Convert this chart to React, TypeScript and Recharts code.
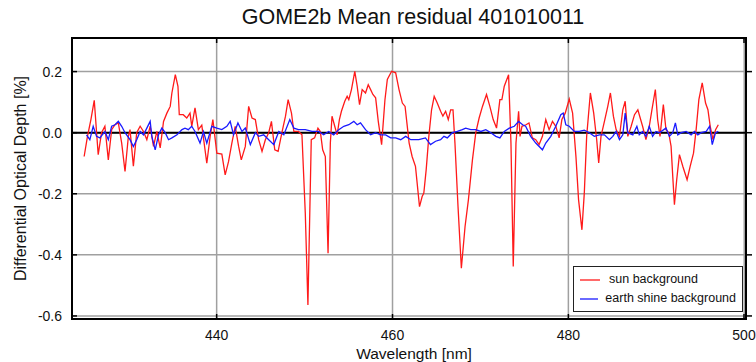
import {
  LineChart,
  Line,
  XAxis,
  YAxis,
  CartesianGrid,
  ReferenceLine,
  ReferenceArea,
  Legend,
} from "recharts";

// wavelength [nm] / residual [%] pairs, sun background fit
const sunWavelength = [
  424.93, 425.31, 425.7, 426.08, 426.53, 426.91, 427.29, 427.68, 428.06, 428.44,
  428.82, 429.2, 429.58, 429.96, 430.15, 430.53, 430.91, 431.3, 431.68, 432.06,
  432.44, 432.82, 433.2, 433.58, 433.96, 434.34, 434.72, 434.91, 435.3, 435.6,
  435.75, 436.2, 436.6, 436.97, 437.17, 437.54, 437.92, 438.31, 438.88, 439.26,
  439.57, 440.02, 440.59, 440.97, 441.35, 441.73, 442.11, 442.5, 442.8, 443.26,
  443.64, 444.02, 444.4, 444.78, 445.16, 445.54, 445.92, 446.23, 446.61, 446.99,
  447.45, 447.83, 448.13, 448.51, 448.78, 449.31, 449.7, 450.08, 450.38, 450.76,
  451.14, 451.52, 451.79, 452.06, 452.36, 452.67, 452.93, 453.12, 453.43, 453.7,
  453.96, 454.19, 454.57, 454.84, 455.03, 455.33, 455.71, 455.98, 456.25, 456.55,
  456.93, 457.24, 457.51, 457.77, 458.08, 458.38, 458.76, 459.14, 459.41, 459.9,
  460.36, 460.74, 461.12, 461.43, 461.89, 462.23, 462.61, 463.07, 463.37, 463.56,
  463.83, 464.13, 464.44, 464.74, 465.09, 465.47, 465.73, 466.04, 466.34, 466.61,
  466.88, 467.1, 467.45, 467.83, 468.25, 468.63, 469.09, 469.47, 469.85, 470.23,
  470.69, 471.07, 471.45, 471.83, 472.21, 472.44, 472.71, 473.2, 473.47, 473.73,
  474.04, 474.34, 474.5, 474.72, 475.18, 475.52, 475.9, 476.29, 476.67, 477.05,
  477.43, 477.81, 478.19, 478.57, 478.95, 479.26, 479.64, 480.1, 480.48, 480.86,
  481.16, 481.54, 481.81, 482.08, 482.5, 482.88, 483.22, 483.45, 483.71, 484.1,
  484.48, 484.78, 485.12, 485.43, 485.81, 486.19, 486.46, 486.76, 487.14, 487.52,
  487.9, 488.44, 488.82, 489.2, 489.5, 489.89, 490.15, 490.42, 490.8, 491.1,
  491.41, 491.68, 491.87, 492.06, 492.32, 492.63, 493.01, 493.5, 493.85, 494.23,
  494.53, 494.84, 495.22, 495.6, 495.87, 496.13, 496.44, 496.74, 497.05,
];
const sunResidual = [
  -0.078, -0.012, 0.043, 0.106, -0.072, 0.0, 0.021, -0.089, 0.01, 0.026,
  0.032, -0.034, -0.127, -0.012, 0.01, -0.11, 0.0, 0.021, 0.004, -0.023,
  0.021, -0.045, 0.004, -0.05, 0.037, 0.064, 0.086, 0.13, 0.19, 0.152,
  0.059, 0.059, 0.048, 0.064, 0.021, 0.081, 0.01, 0.025, -0.1, -0.012,
  0.043, -0.067, -0.07, -0.138, -0.095, -0.034, 0.021, -0.045, -0.089, -0.045,
  0.086, 0.048, 0.043, -0.023, -0.061, -0.023, 0.0, 0.037, -0.056, -0.061,
  0.004, 0.054, 0.108, 0.064, 0.004, 0.004, -0.007, -0.263, -0.564, -0.023,
  -0.017, 0.015, 0.004, -0.056, -0.078, -0.395, -0.034, 0.054, 0.021, -0.007,
  0.043, 0.07, 0.103, 0.119, 0.108, 0.141, 0.201, 0.152, 0.092, 0.141,
  0.13, 0.157, 0.141, 0.125, 0.114, 0.037, -0.039, 0.108, 0.174, 0.201,
  0.196, 0.141, 0.097, 0.086, -0.034, -0.078, -0.11, -0.242, -0.209, -0.198,
  -0.121, -0.012, 0.075, 0.119, 0.097, 0.07, 0.054, 0.07, 0.043, 0.075,
  0.075, -0.034, -0.242, -0.444, -0.307, -0.22, -0.089, 0.0, 0.048, 0.086,
  0.125, 0.086, 0.043, 0.015, 0.108, 0.108, 0.152, 0.19, -0.034, -0.438,
  -0.034, 0.07, -0.012, 0.021, 0.026, 0.032, -0.017, -0.023, -0.039, -0.012,
  0.043, 0.01, 0.037, 0.021, -0.017, 0.043, 0.064, 0.11, 0.064, -0.078,
  -0.22, -0.318, -0.198, -0.012, 0.13, 0.064, -0.023, -0.099, -0.012, 0.037,
  0.086, 0.13, 0.054, 0.01, -0.012, 0.075, 0.103, -0.012, 0.021, 0.059,
  0.075, 0.021, -0.023, 0.021, 0.075, 0.141, 0.043, -0.012, 0.092, 0.01,
  0.0, -0.045, -0.143, -0.236, -0.154, -0.072, -0.11, -0.154, -0.11, -0.067,
  0.01, 0.108, 0.163, 0.097, 0.075, 0.021, -0.023, 0.01, 0.026,
];

// earth shine background fit
const earthWavelength = [
  425.2, 425.58, 425.96, 426.34, 426.72, 427.3, 427.68, 428.06, 428.44, 428.82,
  429.2, 429.58, 430.15, 430.53, 430.91, 431.3, 431.68, 432.06, 432.44, 432.63,
  433.01, 433.39, 433.77, 434.15, 434.53, 434.91, 435.49, 436.06, 436.4, 436.78,
  437.16, 437.54, 438.11, 438.5, 438.88, 439.45, 440.02, 440.59, 441.16, 441.54,
  441.92, 442.42, 442.88, 443.26, 443.83, 444.4, 444.78, 445.35, 445.92, 446.5,
  447.07, 447.64, 448.32, 448.78, 449.31, 450.08, 450.84, 451.6, 452.17, 452.74,
  453.31, 453.89, 454.46, 455.03, 455.6, 455.98, 456.36, 456.93, 457.51, 458.08,
  458.65, 459.22, 459.79, 460.36, 460.93, 461.5, 462.08, 462.99, 463.75, 464.32,
  464.9, 465.47, 465.85, 466.23, 466.8, 467.37, 467.94, 468.32, 468.9, 469.47,
  470.04, 470.61, 471.18, 471.75, 472.21, 472.71, 473.28, 473.85, 474.34, 474.8,
  475.14, 475.71, 476.29, 477.05, 477.43, 478.0, 478.57, 479.14, 479.41, 479.71,
  480.1, 480.67, 481.24, 481.81, 482.38, 482.95, 483.52, 484.1, 484.67, 485.05,
  485.43, 485.81, 486.19, 486.46, 486.76, 487.33, 487.79, 488.06, 488.44, 488.82,
  489.2, 489.58, 489.96, 490.34, 491.1, 491.49, 491.87, 492.17, 492.44, 492.82,
  493.39, 493.96, 494.34, 494.72, 495.1, 495.68, 496.06, 496.36, 496.74, 497.05,
];
const earthResidual = [
  -0.007, -0.023, 0.021, -0.012, -0.017, 0.004, -0.023, 0.021, 0.026, 0.037,
  0.021, 0.0, -0.023, -0.045, -0.023, 0.004, -0.007, 0.015, 0.037, -0.012,
  -0.056, -0.007, 0.015, 0.0, -0.023, -0.017, -0.007, 0.01, 0.015, 0.01,
  0.021, 0.004, -0.034, 0.004, -0.034, 0.021, 0.015, 0.01, 0.021, 0.037,
  -0.007, 0.032, 0.004, 0.015, -0.039, 0.0, -0.012, -0.007, -0.023, -0.039,
  0.004, -0.007, 0.043, 0.015, 0.01, 0.01, 0.004, 0.004, -0.007, 0.004,
  -0.007, 0.01, 0.021, 0.026, 0.037, 0.026, 0.032, 0.01, -0.007, 0.0,
  -0.007, -0.007, -0.017, -0.017, -0.023, -0.012, -0.023, -0.023, -0.017, -0.039,
  -0.028, -0.023, -0.012, -0.017, 0.0, 0.004, 0.01, 0.015, 0.01, 0.01,
  0.004, 0.01, 0.0, -0.012, -0.017, 0.004, 0.015, 0.021, 0.037, 0.026,
  0.021, -0.012, -0.034, -0.056, -0.034, -0.012, 0.021, 0.059, 0.064, 0.026,
  0.021, 0.004, 0.004, 0.008, 0.0, -0.012, -0.007, -0.007, -0.023, -0.012,
  0.004, -0.023, -0.007, 0.064, 0.0, -0.007, 0.021, -0.007, 0.004, -0.012,
  0.021, -0.012, 0.004, 0.0, 0.015, -0.012, 0.0, 0.032, -0.007, 0.0,
  0.004, -0.007, 0.004, -0.007, 0.0, 0.004, 0.021, -0.039, 0.0, 0.004,
];

const seriesNames = ["sun background", "earth shine background"];
const wavelengthTicks = [440, 460, 480, 500];
const residualTicks = [-0.6, -0.4, -0.2, 0, 0.2];

const X_DOMAIN: [number, number] = [423.55, 500.2];
const Y_DOMAIN: [number, number] = [-0.61, 0.31];

const WIDTH = 756;
const HEIGHT = 362;
const MARGIN = { top: 38, right: 10, bottom: 0, left: 12 };
const Y_AXIS_W = 60;
const X_AXIS_H = 43;
const PLOT_TOP = MARGIN.top;
const PLOT_BOTTOM = HEIGHT - MARGIN.bottom - X_AXIS_H;
const PLOT_LEFT = MARGIN.left + Y_AXIS_W;
const PLOT_RIGHT = WIDTH - MARGIN.right;

const FONT = "'Liberation Sans', Arial, Helvetica, sans-serif";

const sunData = sunWavelength.map((wl, i) => ({ wl, value: sunResidual[i] }));
const earthData = earthWavelength.map((wl, i) => ({
  wl,
  value: earthResidual[i],
}));

// tick marks point into the plot box, drawn on both opposite edges
function WavelengthTick({ x, y, payload }: any) {
  return (
    <g>
      <line x1={x} y1={PLOT_BOTTOM} x2={x} y2={PLOT_BOTTOM - 5} stroke="#000" strokeWidth={1.5} />
      <line x1={x} y1={PLOT_TOP} x2={x} y2={PLOT_TOP + 5} stroke="#000" strokeWidth={1.5} />
      <text
        x={x}
        y={y}
        dy={21}
        textAnchor="middle"
        fontSize={14}
        fontFamily={FONT}
        fill="#111"
      >
        {payload.value}
      </text>
    </g>
  );
}

function ResidualTick({ y, payload }: any) {
  return (
    <g>
      <line x1={PLOT_LEFT} y1={y} x2={PLOT_LEFT + 5} y2={y} stroke="#000" strokeWidth={1.5} />
      <line x1={PLOT_RIGHT} y1={y} x2={PLOT_RIGHT + 6} y2={y} stroke="#000" strokeWidth={1.5} />
      <text
        x={PLOT_LEFT - 10}
        y={y}
        dy={5}
        textAnchor="end"
        fontSize={14}
        fontFamily={FONT}
        fill="#111"
      >
        {Number(payload.value).toFixed(1)}
      </text>
    </g>
  );
}

function LegendBox({ payload }: any) {
  const items = [...(payload || [])].sort(
    (a: any, b: any) => seriesNames.indexOf(a.value) - seriesNames.indexOf(b.value)
  );
  return (
    <div
      style={{
        border: "1px solid #222",
        background: "#fff",
        padding: "3px 6px 3px 6px",
        fontFamily: FONT,
        fontSize: 12.5,
        color: "#111",
        lineHeight: "19px",
        whiteSpace: "nowrap",
      }}
    >
      {items.map((entry: any) => (
        <div key={entry.value} style={{ display: "flex", alignItems: "center" }}>
          <svg width={22} height={10} style={{ marginRight: 7 }}>
            <line x1={0} y1={5} x2={20} y2={5} stroke={entry.color} strokeWidth={1.3} />
          </svg>
          <span>{entry.value}</span>
        </div>
      ))}
    </div>
  );
}

export default function App() {
  return (
    <div
      style={{
        position: "absolute",
        left: 0,
        top: 0,
        width: WIDTH,
        height: HEIGHT,
        background: "#fff",
      }}
    >
      <div
        style={{
          position: "absolute",
          top: 5,
          left: 0,
          width: 826,
          textAlign: "center",
          fontFamily: FONT,
          fontSize: 21.5,
          color: "#111",
        }}
      >
        GOME2b Mean residual 401010011
      </div>
      <LineChart width={WIDTH} height={HEIGHT} margin={MARGIN}>
        <CartesianGrid stroke="#a0a0a0" strokeWidth={1.5} />
        <XAxis
          type="number"
          dataKey="wl"
          domain={X_DOMAIN}
          ticks={wavelengthTicks}
          allowDataOverflow
          height={X_AXIS_H}
          tickSize={0}
          tickMargin={0}
          tick={<WavelengthTick />}
          axisLine={false}
          label={{
            value: "Wavelength [nm]",
            position: "insideBottom",
            offset: 3,
            dx: 5,
            fontSize: 15.5,
            fontFamily: FONT,
            fill: "#111",
          }}
        />
        <YAxis
          type="number"
          domain={Y_DOMAIN}
          ticks={residualTicks}
          allowDataOverflow
          width={Y_AXIS_W}
          tickSize={0}
          tick={<ResidualTick />}
          axisLine={false}
          label={{
            value: "Differential Optical Depth [%]",
            angle: -90,
            position: "center",
            dx: -22,
            fontSize: 16,
            fontFamily: FONT,
            fill: "#111",
          }}
        />
        <ReferenceLine y={0} stroke="#000" strokeWidth={2} />
        <Line
          data={sunData}
          dataKey="value"
          name="sun background"
          type="linear"
          stroke="#ff1a1a"
          strokeWidth={1.3}
          dot={false}
          isAnimationActive={false}
        />
        <Line
          data={earthData}
          dataKey="value"
          name="earth shine background"
          type="linear"
          stroke="#1a1aff"
          strokeWidth={1.3}
          dot={false}
          isAnimationActive={false}
        />
        <ReferenceArea
          x1={X_DOMAIN[0]}
          x2={X_DOMAIN[1]}
          y1={Y_DOMAIN[0]}
          y2={Y_DOMAIN[1]}
          fill="none"
          stroke="#000"
          strokeWidth={2}
        />
        <Legend
          layout="vertical"
          align="center"
          verticalAlign="middle"
          content={<LegendBox />}
          wrapperStyle={{ position: "absolute", left: 573, top: 266, width: 170 }}
        />
      </LineChart>
    </div>
  );
}
